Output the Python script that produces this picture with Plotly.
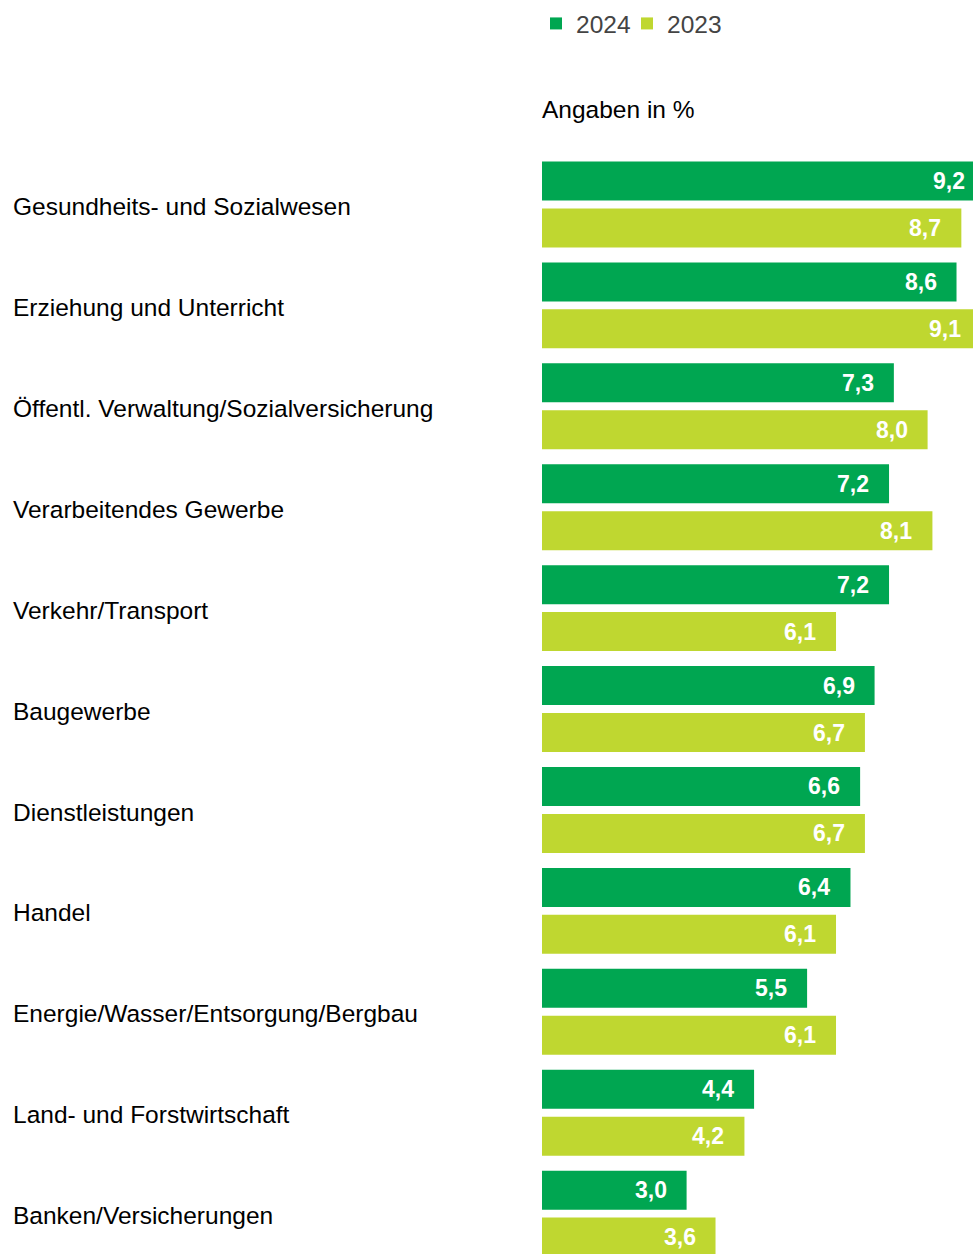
import plotly.graph_objects as go

categories = [
    "Gesundheits- und Sozialwesen",
    "Erziehung und Unterricht",
    "Öffentl. Verwaltung/Sozialversicherung",
    "Verarbeitendes Gewerbe",
    "Verkehr/Transport",
    "Baugewerbe",
    "Dienstleistungen",
    "Handel",
    "Energie/Wasser/Entsorgung/Bergbau",
    "Land- und Forstwirtschaft",
    "Banken/Versicherungen",
]
values_2024 = [9.2, 8.6, 7.3, 7.2, 7.2, 6.9, 6.6, 6.4, 5.5, 4.4, 3.0]
values_2023 = [8.7, 9.1, 8.0, 8.1, 6.1, 6.7, 6.7, 6.1, 6.1, 4.2, 3.6]
series_names = ["2024", "2023"]
colors = ["#00A651", "#BFD730"]

W, H = 973, 1254
ML, MT = 9, 154
bar_left_px = 542
px_per_unit = 48.2
plot_w = W - ML
x_dom0 = (bar_left_px - ML) / plot_w
x_max = (W - bar_left_px) / px_per_unit
plot_h = H - MT
cat_px = plot_h / (len(categories) - 0.1)
bargap = 0.0693
label_pad_units = 18 / px_per_unit
shift = cat_px * (1 - bargap) / 4

FONT = "Liberation Sans, Arial, sans-serif"

def fmt(v):
    return f"{v:.1f}".replace(".", ",")

fig = go.Figure()
legend_ids = ["legend", "legend2"]
for name, vals, col, lg in zip(series_names, [values_2024, values_2023], colors, legend_ids):
    fig.add_trace(go.Bar(
        name=name, y=categories, x=vals, orientation="h",
        marker=dict(color=col, line=dict(width=0)),
        textposition="none", hoverinfo="x+y", legend=lg,
    ))

annotations = []
for vals, ys in [(values_2024, shift), (values_2023, -shift)]:
    for c, v in zip(categories, vals):
        annotations.append(dict(
            x=v - label_pad_units, y=c, xref="x", yref="y",
            text=fmt(v), showarrow=False, xanchor="right", yanchor="middle",
            yshift=ys, font=dict(family=FONT, size=23, color="white", weight="bold"),
        ))
annotations.append(dict(
    x=(bar_left_px - 2 - ML) / plot_w, y=(H - 110) / plot_h, xref="paper", yref="paper",
    text="Angaben in %", showarrow=False, xanchor="left", yanchor="middle",
    font=dict(family=FONT, size=24.5, color="black"),
))

legend_common = dict(
    orientation="h", xanchor="left", y=(H - 1) / plot_h, yanchor="top",
    font=dict(family=FONT, size=24.5, color="#444444"),
    bgcolor="rgba(0,0,0,0)",
)

fig.update_layout(
    width=W, height=H,
    margin=dict(l=ML, r=0, t=MT, b=0, pad=0),
    paper_bgcolor="white", plot_bgcolor="white",
    barmode="group", bargap=bargap, bargroupgap=0.17,
    font=dict(family=FONT),
    showlegend=True,
    legend=dict(x=(536 - ML) / plot_w, **legend_common),
    legend2=dict(x=(627 - ML) / plot_w, **legend_common),
    xaxis=dict(domain=[x_dom0, 1], range=[0, x_max], visible=False, fixedrange=True),
    yaxis=dict(
        categoryorder="array", categoryarray=categories,
        range=[len(categories) - 1 + 0.4, -0.5], autorange=False,
        anchor="free", position=0, ticklabelposition="inside",
        ticklabelshift=-2,
        showgrid=False, zeroline=False, showline=False, ticks="",
        tickfont=dict(family=FONT, size=24.5, color="black"),
        fixedrange=True,
    ),
    annotations=annotations,
)

fig.write_html("out.html", config={"displayModeBar": False},
               post_script="document.body.style.margin='0px';")
